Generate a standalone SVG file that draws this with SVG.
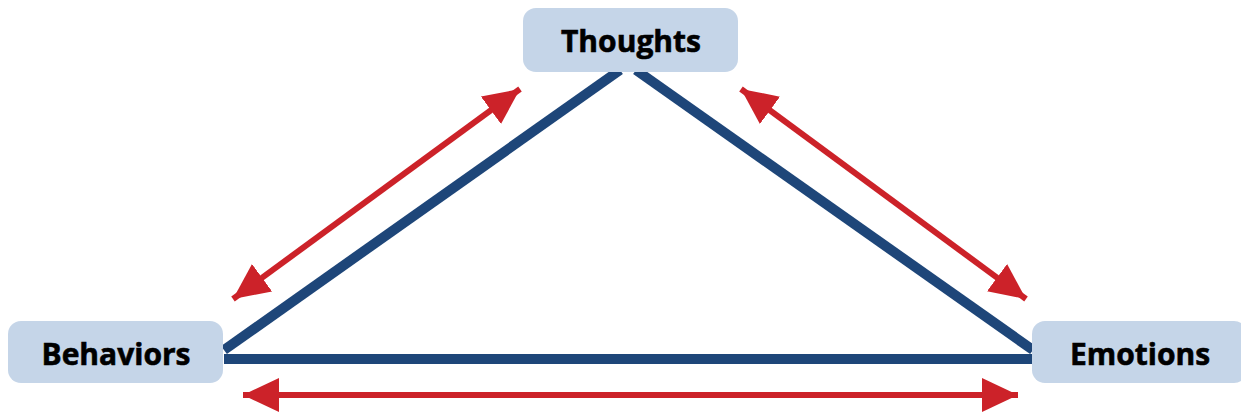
<svg xmlns="http://www.w3.org/2000/svg" width="1241" height="417" viewBox="0 0 1241 417">
<style>
.box{fill:#c5d5e8}
.lbl{font-family:"Open Sans","Liberation Sans",sans-serif;font-weight:700;font-size:30px;fill:#000;stroke:#000;stroke-width:0.6;text-anchor:middle}
.blue{stroke:#1e4679;stroke-width:10;fill:none}
.red{stroke:#cc2229;stroke-width:6;fill:none;marker-start:url(#ah);marker-end:url(#ah)}
</style>
<defs>
<marker id="ah" markerUnits="userSpaceOnUse" markerWidth="36" markerHeight="36" viewBox="0 0 36 36" refX="36" refY="18" orient="auto-start-reverse">
<path d="M0,1 L36,18 L0,35 Z" fill="#cc2229"/>
</marker>
</defs>
<rect width="1241" height="417" fill="#fff"/>
<g id="connectors">
<line class="blue" x1="620" y1="70" x2="224" y2="350"/>
<line class="blue" x1="636" y1="70" x2="1033" y2="350"/>
<line class="blue" x1="224" y1="359" x2="1033" y2="359"/>
<line class="red" x1="233" y1="299" x2="520" y2="89"/>
<line class="red" x1="741" y1="89" x2="1026" y2="299"/>
<line class="red" x1="243" y1="395" x2="1018" y2="395"/>
</g>
<g id="thoughts">
<rect class="box" x="523" y="8" width="215" height="64" rx="13"/>
<text class="lbl" x="631" y="52">Thoughts</text>
</g>
<g id="behaviors">
<rect class="box" x="8" y="321" width="215" height="62" rx="13"/>
<text class="lbl" x="116" y="365">Behaviors</text>
</g>
<g id="emotions">
<rect class="box" x="1032" y="321" width="215" height="62" rx="13"/>
<text class="lbl" x="1140" y="365">Emotions</text>
</g>
</svg>
